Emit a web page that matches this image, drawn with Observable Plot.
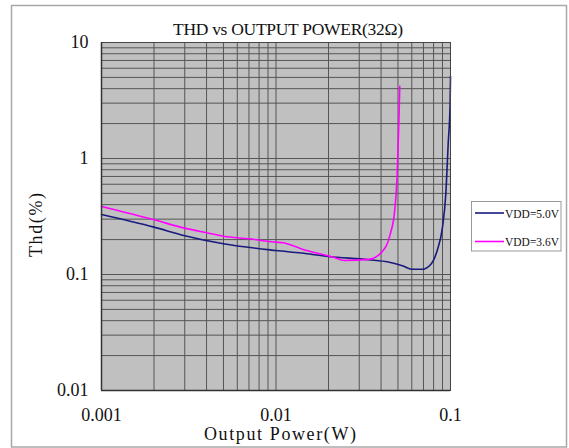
<!DOCTYPE html>
<html>
<head>
<meta charset="utf-8">
<script src="https://cdn.jsdelivr.net/npm/d3@7"></script>
<script src="https://cdn.jsdelivr.net/npm/@observablehq/plot@0.6"></script>
<style>
  html, body { margin: 0; padding: 0; background: #fff; }
  #chart { position: relative; width: 569px; height: 448px; }
</style>
</head>
<body>
<div id="chart"></div>
<script>
// Data
const vdd50Power = [0.001, 0.002, 0.003, 0.005, 0.01, 0.014, 0.02, 0.034, 0.044, 0.053, 0.060, 0.069, 0.077, 0.084, 0.090, 0.094, 0.097, 0.0995, 0.1];
const vdd50Thd   = [0.329, 0.256, 0.216, 0.184, 0.161, 0.153, 0.143, 0.134, 0.128, 0.119, 0.111, 0.111, 0.122, 0.162, 0.256, 0.496, 1.34, 2.96, 5.1];

const vdd36Power = [0.001, 0.002, 0.003, 0.004, 0.005, 0.007, 0.01, 0.011, 0.014, 0.0213, 0.0246, 0.034, 0.0404, 0.0452, 0.0479, 0.0494, 0.0505, 0.0512];
const vdd36Thd   = [0.385, 0.296, 0.251, 0.229, 0.214, 0.203, 0.190, 0.188, 0.166, 0.141, 0.132, 0.135, 0.156, 0.224, 0.357, 0.690, 1.87, 4.2];

const seriesNames = ["VDD=5.0V", "VDD=3.6V"];
const seriesColors = ["#1a1a7e", "#ff00ff"];

const xTickValues = [0.001, 0.01, 0.1];
const xTickLabels = ["0.001", "0.01", "0.1"];
const yTickValues = [0.01, 0.1, 1, 10];
const yTickLabels = ["0.01", "0.1", "1", "10"];

const xGridValues = [0.001,0.002,0.003,0.004,0.005,0.006,0.007,0.008,0.009,
                     0.01,0.02,0.03,0.04,0.05,0.06,0.07,0.08,0.09,0.1];
const yGridValues = [0.01,0.02,0.03,0.04,0.05,0.06,0.07,0.08,0.09,
                     0.1,0.2,0.3,0.4,0.5,0.6,0.7,0.8,0.9,
                     1,2,3,4,5,6,7,8,9,10];

const titleText = "THD vs OUTPUT POWER(32Ω)";
const xLabelText = "Output Power(W)";
const yLabelText = "Thd(%)";

const rows = [
  ...vdd50Power.map((p, i) => ({power: p, thd: vdd50Thd[i], series: seriesNames[0]})),
  ...vdd36Power.map((p, i) => ({power: p, thd: vdd36Thd[i], series: seriesNames[1]}))
];

const W = 569, H = 448;
const font = "'Liberation Serif', 'DejaVu Serif', serif";

const plot = Plot.plot({
  width: W,
  height: H,
  marginLeft: 101,
  marginRight: 119,
  marginTop: 42,
  marginBottom: 58,
  style: {fontFamily: font, fontSize: "18px", background: "white", color: "#111"},
  x: {type: "log", domain: [0.001, 0.1]},
  y: {type: "log", domain: [0.01, 10]},
  color: {domain: seriesNames, range: seriesColors},
  marks: [
    Plot.frame({fill: "#c0c0c0"}),
    Plot.ruleX(xGridValues, {stroke: "#555", strokeWidth: 1}),
    Plot.ruleY(yGridValues, {stroke: "#555", strokeWidth: 1}),
    Plot.line(rows, {x: "power", y: "thd", z: "series", stroke: "series", strokeWidth: 1.6, curve: "monotone-x"}),
    Plot.frame({stroke: "#444", strokeWidth: 1}),
    Plot.ruleX([0.001], {stroke: "#333", strokeWidth: 1.5}),
    Plot.ruleY([0.01], {stroke: "#333", strokeWidth: 1.5}),
    Plot.axisX({ticks: xTickValues, tickFormat: (d) => xTickLabels[xTickValues.indexOf(d)], tickSize: 0, tickPadding: 18, label: null, fontSize: 18}),
    Plot.axisY({ticks: yTickValues, tickFormat: (d) => yTickLabels[yTickValues.indexOf(d)], tickSize: 0, tickPadding: 13, label: null, fontSize: 18})
  ]
});

const svg = d3.select(plot);
// outer frame
svg.append("rect").attr("x", 11.5).attr("y", 5.5).attr("width", 555).attr("height", 441.5)
  .attr("fill", "none").attr("stroke", "#a8a8a8").attr("stroke-width", 1.5);
// title
svg.append("text").attr("x", 173).attr("y", 35).attr("text-anchor", "start")
  .attr("font-size", 17.5).attr("fill", "#111")
  .attr("textLength", 230).attr("lengthAdjust", "spacing").text(titleText);
// x label
svg.append("text").attr("x", 204).attr("y", 440).attr("text-anchor", "start")
  .attr("font-size", 18).attr("fill", "#111")
  .attr("textLength", 152).attr("lengthAdjust", "spacing").text(xLabelText);
// y label
svg.append("text").attr("transform", "translate(42,257) rotate(-90)").attr("text-anchor", "start")
  .attr("font-size", 18).attr("fill", "#111")
  .attr("textLength", 64).attr("lengthAdjust", "spacing").text(yLabelText);
// legend
const lg = svg.append("g");
lg.append("rect").attr("x", 471.5).attr("y", 201.5).attr("width", 89.5).attr("height", 49.5)
  .attr("fill", "white").attr("stroke", "#999").attr("stroke-width", 1);
seriesNames.forEach((name, i) => {
  const yy = 213 + i * 28.5;
  lg.append("line").attr("x1", 475).attr("x2", 504).attr("y1", yy).attr("y2", yy)
    .attr("stroke", seriesColors[i]).attr("stroke-width", 1.6);
  lg.append("text").attr("x", 505).attr("y", yy + 4.5).attr("text-anchor", "start")
    .attr("font-size", 13).attr("fill", "#111")
    .attr("textLength", 54).attr("lengthAdjust", "spacingAndGlyphs").text(name);
});

document.getElementById("chart").appendChild(plot);
</script>
</body>
</html>
